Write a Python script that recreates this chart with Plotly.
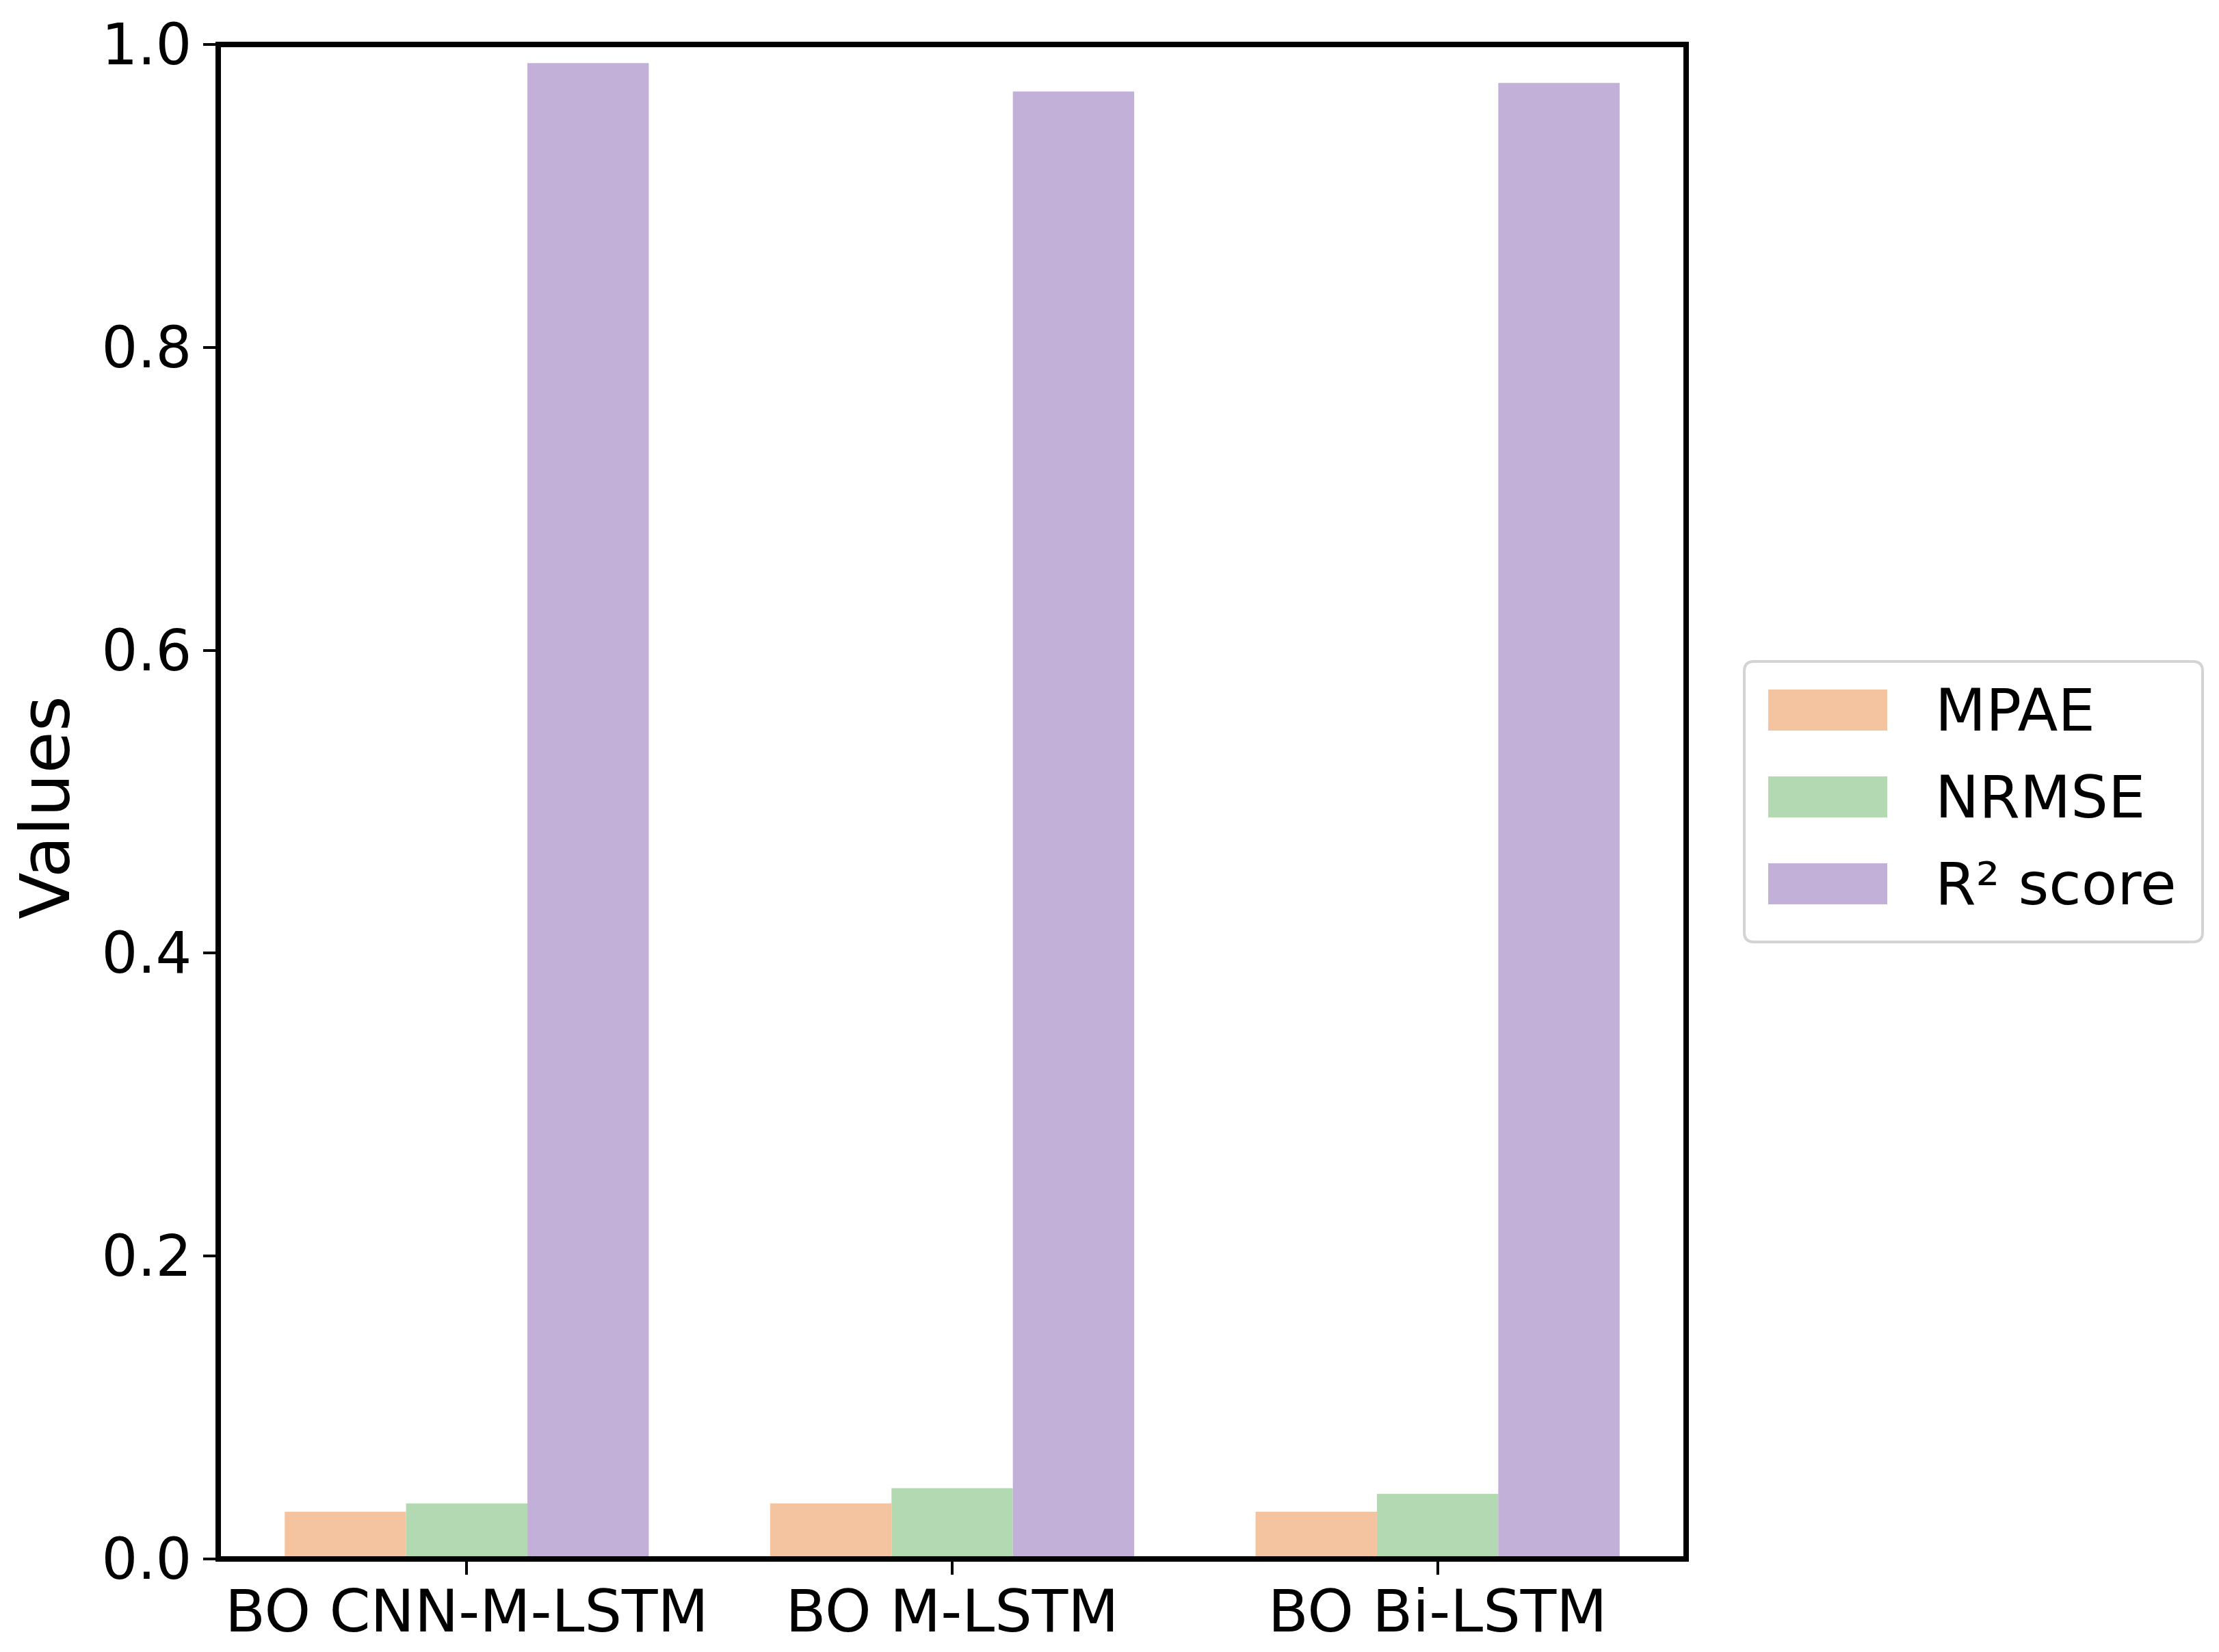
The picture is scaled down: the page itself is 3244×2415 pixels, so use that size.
import plotly.graph_objects as go

# ---- data ----
models = ["BO CNN-M-LSTM", "BO M-LSTM", "BO Bi-LSTM"]
mpae = [0.0312, 0.0367, 0.0312]
nrmse = [0.0367, 0.0468, 0.0430]
r2_score = [0.9877, 0.9689, 0.9746]
series_names = ["MPAE", "NRMSE", "R² score"]
series_values = [mpae, nrmse, r2_score]
colors = ["#F4C39F", "#B3D9B2", "#C2B0D8"]
y_tick_vals = [0.0, 0.2, 0.4, 0.6, 0.8, 1.0]
y_tick_text = ["0.0", "0.2", "0.4", "0.6", "0.8", "1.0"]

# ---- geometry (page pixels) ----
W, H = 3244, 2415
OFF = 8  # default body margin of the page
L, R, T, B = 319, 2465, 65, 2279
PW, PH = R - L, B - T


def px(x):
    return (x - L) / PW


def py(y):
    return (B - y) / PH


def rounded_rect_path(x0, y0, x1, y1, r):
    # pixel coords -> paper coords path with rounded corners
    pts = []
    pts.append(f"M {px(x0 + r)},{py(y0)}")
    pts.append(f"L {px(x1 - r)},{py(y0)}")
    pts.append(f"Q {px(x1)},{py(y0)} {px(x1)},{py(y0 + r)}")
    pts.append(f"L {px(x1)},{py(y1 - r)}")
    pts.append(f"Q {px(x1)},{py(y1)} {px(x1 - r)},{py(y1)}")
    pts.append(f"L {px(x0 + r)},{py(y1)}")
    pts.append(f"Q {px(x0)},{py(y1)} {px(x0)},{py(y1 - r)}")
    pts.append(f"L {px(x0)},{py(y0 + r)}")
    pts.append(f"Q {px(x0)},{py(y0)} {px(x0 + r)},{py(y0)}")
    pts.append("Z")
    return " ".join(pts)


FONT = "DejaVu Sans"

fig = go.Figure()
for name, vals, col in zip(series_names, series_values, colors):
    fig.add_trace(go.Bar(x=models, y=vals, name=name, marker=dict(color=col, line=dict(width=0)),
                         showlegend=False))

shapes = [dict(type="rect", xref="paper", yref="paper", x0=0, x1=1, y0=0, y1=1,
               line=dict(color="black", width=8), layer="above")]

# legend box (rounded)
shapes.append(dict(type="path", xref="paper", yref="paper",
                   path=rounded_rect_path(2550, 967, 3220, 1377, 14),
                   line=dict(color="#D3D3D3", width=4), fillcolor="white", layer="above"))
annotations = []
row_centers = [1038, 1165, 1292]
for name, col, yc in zip(series_names, colors, row_centers):
    shapes.append(dict(type="rect", xref="paper", yref="paper",
                       x0=px(2585), x1=px(2759), y0=py(yc + 30), y1=py(yc - 30),
                       line=dict(width=0), fillcolor=col, layer="above"))
    annotations.append(dict(x=px(2827), y=py(yc), xref="paper", yref="paper",
                            xanchor="left", yanchor="middle", text=name, showarrow=False,
                            font=dict(family=FONT, size=86, color="black")))

annotations.append(dict(x=px(67), y=0.496, xref="paper", yref="paper", text="Values",
                        textangle=-90, xanchor="center", yanchor="middle", showarrow=False,
                        font=dict(family=FONT, size=100, color="black")))

fig.update_layout(
    width=W - 2 * OFF, height=H - 2 * OFF,
    margin=dict(l=L - OFF, r=W - OFF - R, t=T - OFF, b=H - OFF - B, autoexpand=False),
    paper_bgcolor="white", plot_bgcolor="white",
    barmode="group", bargap=0.25, bargroupgap=0,
    font=dict(family=FONT, color="black"),
    shapes=shapes, annotations=annotations,
    xaxis=dict(range=[-0.512, 2.512], showgrid=False, zeroline=False, showline=False,
               ticks="outside", ticklen=22, tickwidth=4, tickcolor="black",
               ticklabelstandoff=-20,
               tickfont=dict(family=FONT, size=86, color="black"), automargin=False),
    yaxis=dict(range=[0, 1.0], showgrid=False, zeroline=False, showline=False,
               tickmode="array", tickvals=y_tick_vals, ticktext=y_tick_text,
               ticks="outside", ticklen=21, tickwidth=4, tickcolor="black",
               tickfont=dict(family=FONT, size=83, color="black"), automargin=False),
)

fig.write_html("out.html")
